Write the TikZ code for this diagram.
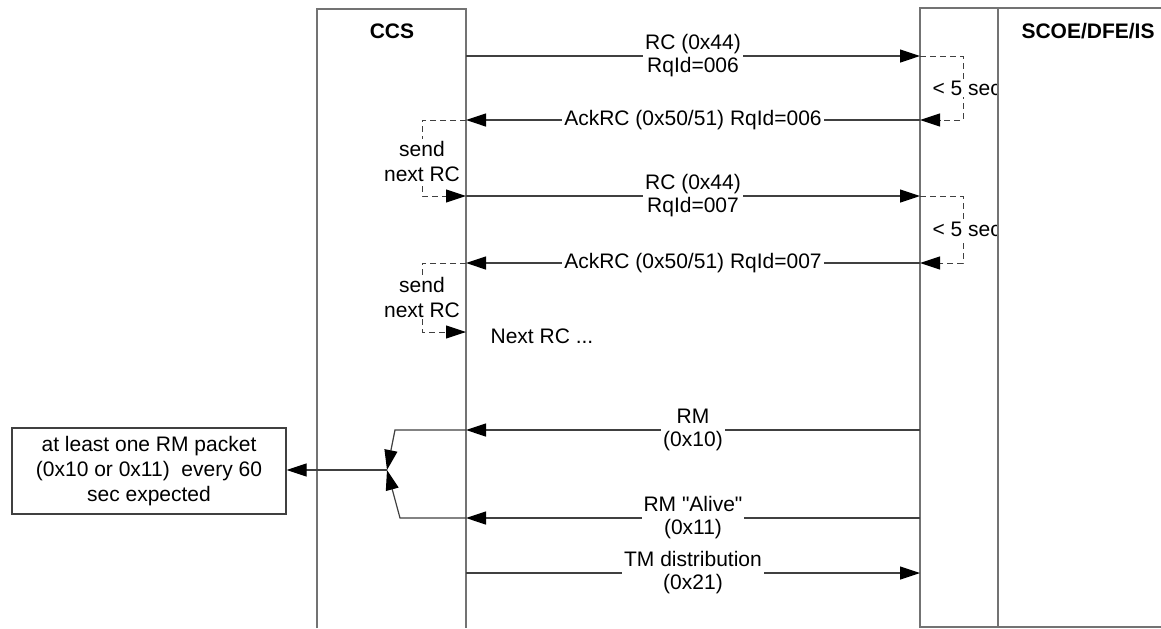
\documentclass[tikz,border=0pt]{standalone}
\usepackage{fontspec}
\setmainfont{Liberation Sans}
\usetikzlibrary{arrows.meta}

\begin{document}
\begin{tikzpicture}[x=0.5pt, y=-0.5pt, line width=0.6pt,
  >={Triangle[length=10pt, width=6.5pt, color=black]},
  every node/.style={font=\fontsize{10.5}{11.5}\selectfont, align=center,
  inner sep=1pt},
  lane/.style={draw=black!55},
  msg/.style={draw=black!75, ->},
  lbl/.style={fill=white},
  wait/.style={draw=black!75, densely dashed, line width=0.5pt, ->}]
  \useasboundingbox (0,0) rectangle (1161,628);
  \draw[lane] (317,628) -- (317,9) -- (466,9) -- (466,628);
  \draw[lane] (1161,8) -- (920,8) -- (920,627) -- (1161,627);
  \node[font=\fontsize{10.5}{11.5}\selectfont\bfseries] (ccs) at (392,31) {CCS};
  \node[font=\fontsize{10.5}{11.5}\selectfont\bfseries] (scoe) at (1088,31) {SCOE/DFE/IS};
  \foreach \a/\b/\n in {56/120/006, 196/263/007} {
    \coordinate (ccsrc\n) at (466,\a);
    \coordinate (scoerc\n) at (920,\a);
    \coordinate (ccsack\n) at (466,\b);
    \coordinate (scoeack\n) at (920,\b);
    \draw[msg] (ccsrc\n) -- node[lbl] {RC (0x44)\\RqId=\n} (scoerc\n);
    \draw[msg] (scoeack\n) -- node[lbl] {AckRC (0x50/51) RqId=\n} (ccsack\n);
    \draw[wait] (scoerc\n) -- ++(43,0) |- (scoeack\n);
    \begin{scope}
      \clip (920,0) rectangle (998,628);
      \node[lbl, anchor=west] (lim\n) at (930,{(\a+\b)/2}) {< 5 sec};
    \end{scope}
  }
  \draw[lane] (998,8) -- (998,627);
  \coordinate (ccsrcnxt) at (466,332);
  \foreach \n/\m/\y in {006/007/161, 007/nxt/297} {
    \draw[wait] (ccsack\n) -- ++(-44,0) |- (ccsrc\m);
    \node[lbl, font=\fontsize{10.5}{12.5}\selectfont] (send\n) at (422,\y)
      {send\\next RC};
  }
  \node[anchor=west] (nextrc) at (488,336) {Next RC ...};
  \coordinate (scoerm) at (920,430);
  \coordinate (ccsrm) at (466,430);
  \coordinate (bendrm) at (395,430);
  \coordinate (scoealive) at (920,518);
  \coordinate (ccsalive) at (466,518);
  \coordinate (bendalive) at (400,518);
  \coordinate (join) at (387,470);
  \coordinate (ccstm) at (466,573);
  \coordinate (scoetm) at (920,573);
  \node[draw=black!75, minimum width=137pt, minimum height=43pt,
    font=\fontsize{10.5}{12.5}\selectfont] (note) at (149,471)
    {at least one RM packet\\(0x10 or 0x11)\ \ every 60\\sec expected};
  \draw[msg] (scoerm) -- node[lbl] {RM\\(0x10)} (ccsrm);
  \draw[msg] (scoealive) -- node[lbl]
    {RM \textquotedbl Alive\textquotedbl\\(0x11)} (ccsalive);
  \draw[msg] (ccsrm) -- (bendrm) -- (join);
  \draw[msg] (ccsalive) -- (bendalive) -- (join);
  \draw[msg] (join) -- (join -| note.east);
  \draw[msg] (ccstm) -- node[lbl] {TM distribution\\(0x21)} (scoetm);
\end{tikzpicture}
\end{document}
